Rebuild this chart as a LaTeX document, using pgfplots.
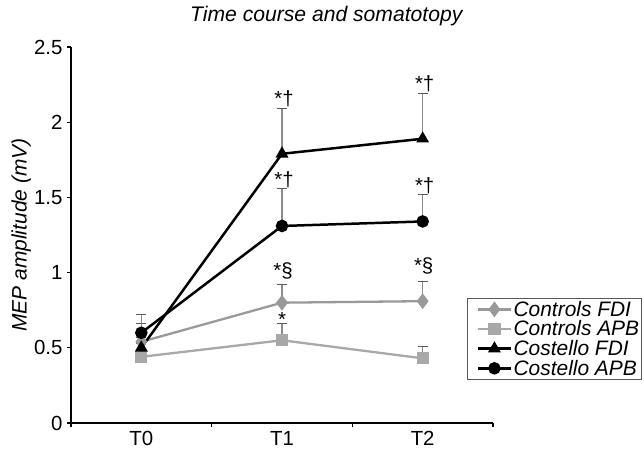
\documentclass[border=0pt]{standalone}
\usepackage{fontspec}
\setmainfont{Liberation Sans}
\usepackage{pgfplots}
\pgfplotsset{compat=1.18}
\definecolor{cfdi}{gray}{0.6}
\definecolor{capb}{gray}{0.66}
\definecolor{errc}{gray}{0.55}
\begin{document}
\begin{tikzpicture}[font=\fontsize{20.5}{23}\selectfont]
\useasboundingbox (-71bp,-37bp) rectangle (573bp,423bp);
\begin{axis}[
 at={(0,0)}, anchor=south west,
 scale only axis, width=422bp, height=376bp,
 xmin=0, xmax=3, ymin=0, ymax=2.5,
 clip=false,
 axis x line=bottom, axis y line=left,
 axis line style={-, line width=1.6pt},
 xtick={0.5,1.5,2.5}, xticklabels={T0,T1,T2},
 major x tick style={draw=none},
 minor xtick={0,1,2,3}, minor x tick style={line width=1.3pt, black},
 minor tick length=3.5bp,
 tick align=outside,
 ytick={0,0.5,1,1.5,2,2.5}, yticklabels={0,0.5,1,1.5,2,2.5},
 major y tick style={line width=1.3pt, black}, major tick length=4bp,
 x tick label style={yshift=-1bp},
 y tick label style={xshift=-1bp},
 title={\itshape Time course and somatotopy},
 title style={at={(axis description cs:0.605,1.066)}, anchor=center, font=\fontsize{21.2}{24}\selectfont},
 ylabel={\itshape MEP amplitude (mV)},
 ylabel style={at={(axis description cs:-0.118,0.5)}, anchor=center, rotate=0, font=\fontsize{21}{24}\selectfont},
 legend style={at={(rel axis cs:0.938,0.332)}, anchor=north west,
   draw=gray!70!black, line width=0.8pt, font=\itshape\fontsize{21}{21}\selectfont,
   row sep=0pt, inner sep=1pt, cells={anchor=west}, nodes={inner sep=1.5pt}},
 legend image code/.code={\path (0cm,0cm); \draw[mark repeat=2,mark phase=2] plot coordinates {(0.3cm,0cm) (0.88cm,0cm) (1.46cm,0cm)};},
 every axis plot/.append style={
   error bars/y dir=plus, error bars/y explicit,
   error bars/error bar style={errc, line width=1.1pt},
   error bars/error mark options={rotate=90, mark size=5bp, line width=1.1pt, black!65}},
]
\addplot[cfdi, line width=2.3pt, mark=diamond*, mark size=6bp, mark options={solid, fill=cfdi}]
 coordinates {(0.5,0.54) +- (0,0.03) (1.5,0.80) +- (0,0.12) (2.5,0.81) +- (0,0.13)};
\addlegendentry{Controls FDI}
\addplot[capb, line width=2.3pt, mark=square*, mark size=5bp, mark options={solid, fill=capb}]
 coordinates {(0.5,0.44) +- (0,0.09) (1.5,0.55) +- (0,0.11) (2.5,0.43) +- (0,0.08)};
\addlegendentry{Controls APB}
\addplot[black, line width=2.5pt, mark=triangle*, mark size=5bp, mark options={solid}]
 coordinates {(0.5,0.50) +- (0,0.16) (1.5,1.79) +- (0,0.30) (2.5,1.89) +- (0,0.30)};
\addlegendentry{Costello FDI}
\addplot[black, line width=2.5pt, mark=*, mark size=5bp, mark options={solid}]
 coordinates {(0.5,0.60) +- (0,0.12) (1.5,1.31) +- (0,0.25) (2.5,1.34) +- (0,0.18)};
\addlegendentry{Costello APB}
\node[anchor=base, inner sep=0pt, xshift=2bp] at (axis cs:1.5,2.11) {*†};
\node[anchor=base, inner sep=0pt, xshift=2bp] at (axis cs:2.5,2.21) {*†};
\node[anchor=base, inner sep=0pt, xshift=2bp] at (axis cs:1.5,1.57) {*†};
\node[anchor=base, inner sep=0pt, xshift=2bp] at (axis cs:2.5,1.53) {*†};
\node[anchor=base, inner sep=0pt, xshift=1bp] at (axis cs:1.5,0.97) {*§};
\node[anchor=base, inner sep=0pt, xshift=1bp] at (axis cs:2.5,1.00) {*§};
\node[anchor=base, inner sep=0pt] at (axis cs:1.5,0.64) {*};
\end{axis}
\end{tikzpicture}
\end{document}
